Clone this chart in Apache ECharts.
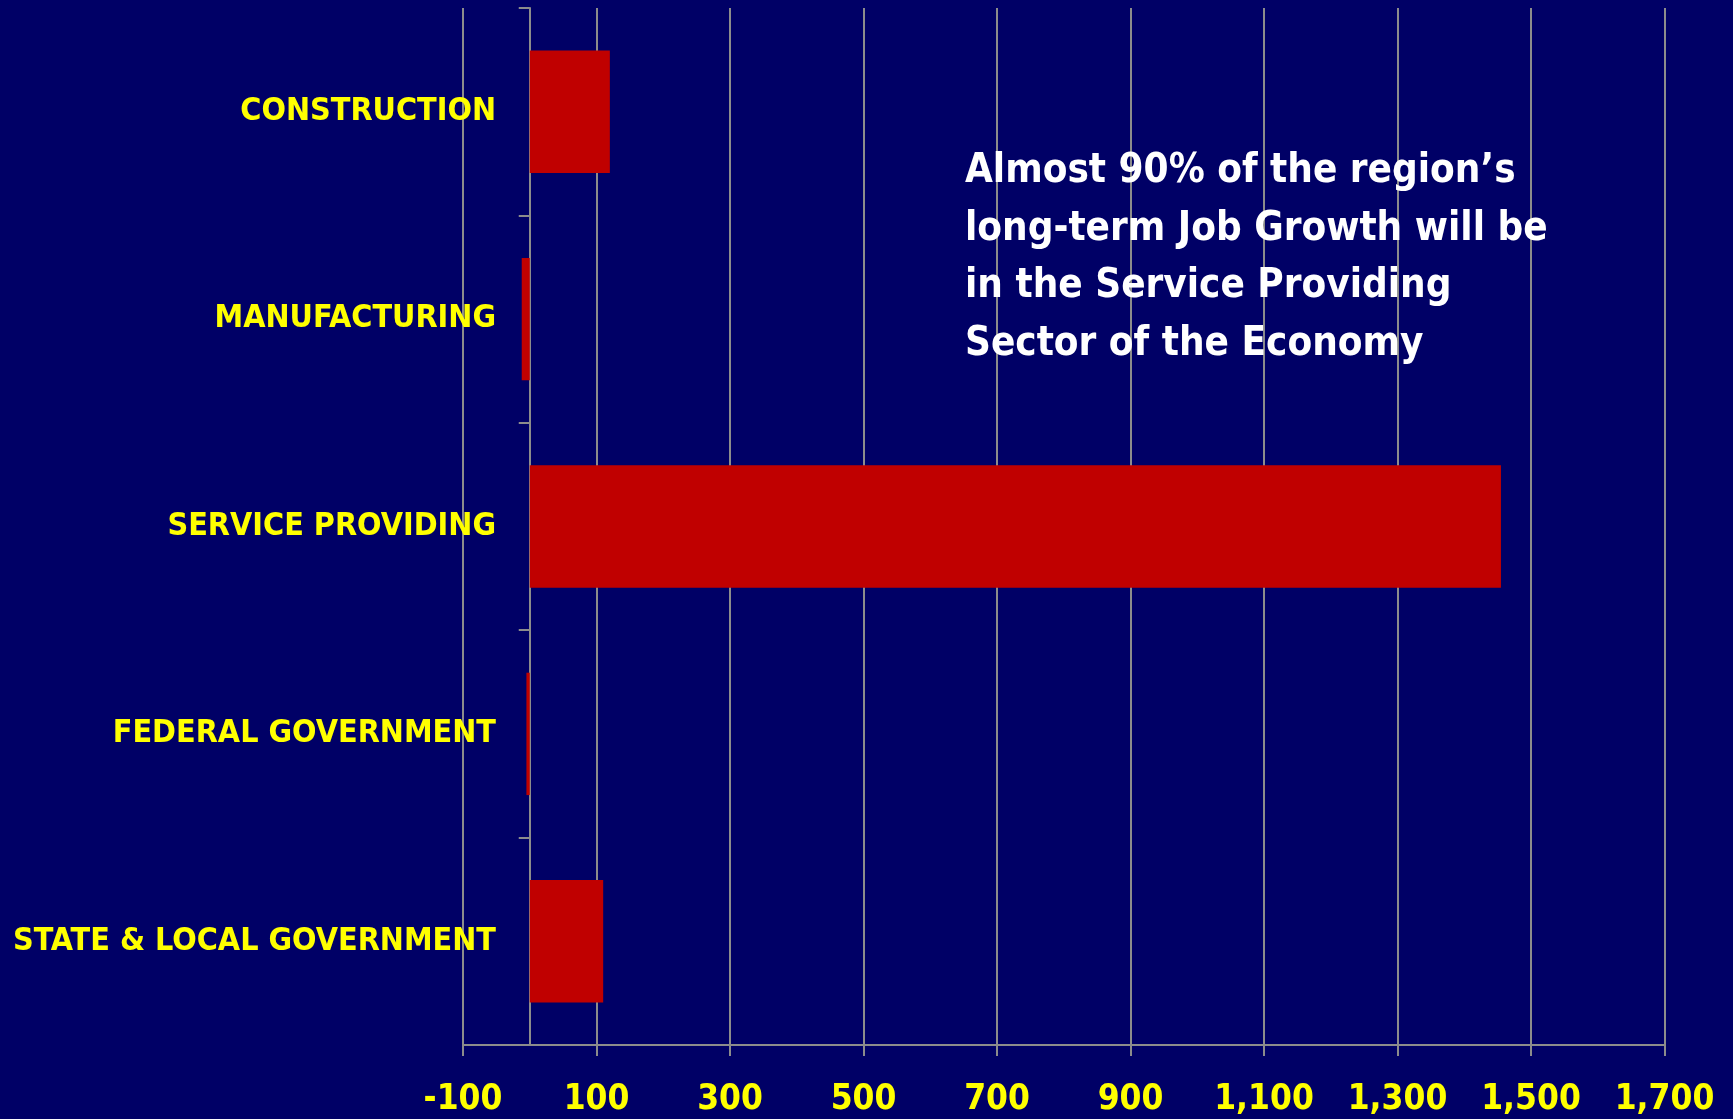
<!DOCTYPE html>
<html>
<head>
<meta charset="utf-8">
<script src="https://cdn.jsdelivr.net/npm/echarts@6/dist/echarts.min.js"></script>
<style>
html,body{margin:0;padding:0;background:#000066;}
#chart{width:1733px;height:1119px;}
</style>
</head>
<body>
<div id="chart"></div>
<script>
const categories = ['CONSTRUCTION', 'MANUFACTURING', 'SERVICE PROVIDING', 'FEDERAL GOVERNMENT', 'STATE & LOCAL GOVERNMENT'];
const jobGrowth = [120, -12, 1455, -5, 110];
const axisMin = -100, axisMax = 1700, axisStep = 200;
const noteLines = ['Almost 90% of the region\u2019s', 'long-term Job Growth will be', 'in the Service Providing', 'Sector of the Economy'];

const FONT = "'Liberation Sans Narrow', 'DejaVu Sans Condensed', 'Arial Narrow', sans-serif";
const chart = echarts.init(document.getElementById('chart'));
chart.setOption({
  backgroundColor: '#000066',
  animation: false,
  grid: { left: 463, right: 68.5, top: 8, bottom: 74, containLabel: false, outerBoundsMode: 'none' },
  xAxis: {
    type: 'value', min: axisMin, max: axisMax, interval: axisStep,
    axisLine: { show: true, lineStyle: { color: '#8c8c8c', width: 2 } },
    axisTick: { show: true, length: 11, lineStyle: { color: '#8c8c8c', width: 2 } },
    splitLine: { show: true, lineStyle: { color: '#8c8c8c', width: 2 } },
    axisLabel: {
      color: '#ffff00', fontFamily: FONT, fontWeight: 'bold', fontSize: 35, margin: 37,
      formatter: v => v.toLocaleString('en-US')
    }
  },
  yAxis: {
    type: 'category', data: categories, inverse: true,
    axisLine: { show: true, onZero: true, lineStyle: { color: '#8c8c8c', width: 2 } },
    axisTick: { show: true, length: 11, lineStyle: { color: '#8c8c8c', width: 2 } },
    splitLine: { show: false },
    axisLabel: { color: '#ffff00', fontFamily: FONT, fontWeight: 'bold', fontSize: 32, margin: -33 }
  },
  series: [{
    type: 'bar', data: jobGrowth, barCategoryGap: '41%',
    itemStyle: { color: '#c00000' }
  }],
  graphic: noteLines.map((t, i) => ({
    type: 'text', left: 965, top: 152 + i * 57.5, z: 10,
    style: { text: t, fill: '#ffffff', font: 'bold 40px ' + FONT }
  }))
});
</script>
</body>
</html>
